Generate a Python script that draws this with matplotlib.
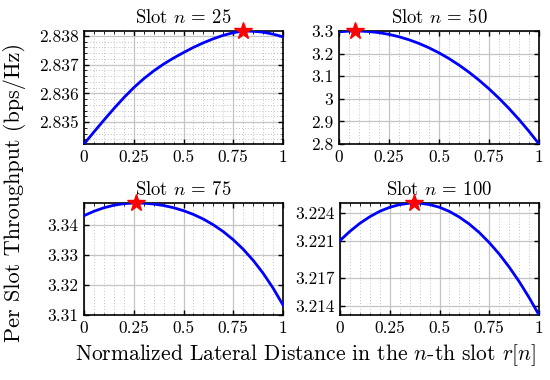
import matplotlib
matplotlib.use("Agg")
import matplotlib.pyplot as plt
from matplotlib.ticker import MultipleLocator

plt.rcParams['font.family'] = ['cmr10', 'DejaVu Serif']
plt.rcParams['mathtext.fontset'] = 'cm'
plt.rcParams['axes.formatter.use_mathtext'] = True

# ---- data ----
r = [0.00, 0.05, 0.10, 0.15, 0.20, 0.25, 0.30, 0.35, 0.40, 0.45, 0.50,
     0.55, 0.60, 0.65, 0.70, 0.75, 0.80, 0.85, 0.90, 0.95, 1.00]

slots = [25, 50, 75, 100]

thr_25 = [2.83424, 2.83466, 2.83507, 2.83547, 2.83585, 2.83620, 2.83651, 2.83678,
          2.83702, 2.83723, 2.83742, 2.83760, 2.83776, 2.83790, 2.83802, 2.83811,
          2.83817, 2.83816, 2.83813, 2.83806, 2.83797]
thr_50 = [3.2964, 3.2994, 3.2998, 3.2976, 3.2927, 3.2850, 3.2745, 3.2612,
          3.2449, 3.2256, 3.2033, 3.1779, 3.1493, 3.1175, 3.0825, 3.0441,
          3.0023, 2.9570, 2.9083, 2.8560, 2.8000]
thr_75 = [3.34300, 3.34446, 3.34561, 3.34645, 3.34698, 3.34719, 3.34713, 3.34686,
          3.34636, 3.34563, 3.34465, 3.34340, 3.34185, 3.33995, 3.33769, 3.33500,
          3.33184, 3.32816, 3.32388, 3.31895, 3.31330]
thr_100 = [3.22100, 3.22199, 3.22285, 3.22356, 3.22414, 3.22457, 3.22486, 3.22501,
           3.22501, 3.22486, 3.22457, 3.22412, 3.22351, 3.22276, 3.22185, 3.22077,
           3.21955, 3.21815, 3.21660, 3.21488, 3.21300]

opt_r = [0.80, 0.08, 0.26, 0.37]
opt_thr = [2.83817, 3.3000, 3.3472, 3.22503]

yticks_25 = [2.835, 2.836, 2.837, 2.838]
yticks_50 = [2.8, 2.9, 3.0, 3.1, 3.2, 3.3]
yticks_75 = [3.31, 3.32, 3.33, 3.34]
yticks_100 = [3.214, 3.217, 3.221, 3.224]
ylabels_25 = ['2.835', '2.836', '2.837', '2.838']
ylabels_50 = ['2.8', '2.9', '3', '3.1', '3.2', '3.3']
ylabels_75 = ['3.31', '3.32', '3.33', '3.34']
ylabels_100 = ['3.214', '3.217', '3.221', '3.224']
xticks = [0, 0.25, 0.5, 0.75, 1]
xticklabels = ['0', '0.25', '0.5', '0.75', '1']

series = [thr_25, thr_50, thr_75, thr_100]
yticks_all = [yticks_25, yticks_50, yticks_75, yticks_100]
ylabels_all = [ylabels_25, ylabels_50, ylabels_75, ylabels_100]

# ---- layout ----
fig = plt.figure(figsize=(5.5, 3.8), dpi=100)
W, H = 550, 380
boxes = [(84, 31, 283, 144), (339, 31, 539, 144),
         (84, 203, 283, 315), (340, 203, 539, 315)]

for i, (x0, y0, x1, y1) in enumerate(boxes):
    ax = fig.add_axes([x0 / W, 1 - y1 / H, (x1 - x0) / W, (y1 - y0) / H])
    y = series[i]
    ax.plot(r, y, color='#0000ff', lw=2.0, zorder=3)
    ax.plot(opt_r[i], opt_thr[i], marker='*', color='red', ms=13, mec='red',
            clip_on=False, zorder=5)
    ax.set_xlim(0, 1)
    ax.set_ylim(min(y), max(max(y), opt_thr[i]))
    ax.set_xticks(xticks)
    ax.set_xticklabels(xticklabels)
    ax.set_yticks(yticks_all[i])
    ax.set_yticklabels(ylabels_all[i])
    ax.xaxis.set_minor_locator(MultipleLocator(0.05))
    if i == 0:
        ax.yaxis.set_minor_locator(MultipleLocator(0.0002))
        ax.grid(True, which='minor', axis='y', color='#9a9a9a', lw=0.6,
                ls=(0, (1, 2.5)), alpha=0.8)
    ax.grid(True, which='minor', axis='x', color='#9a9a9a', lw=0.6,
            ls=(0, (1, 2.5)), alpha=0.8)
    ax.grid(True, which='major', color='#c4c4c4', lw=0.9)
    ax.set_axisbelow(True)
    ax.tick_params(which='both', direction='in', top=True, right=True,
                   labelsize=12.5, pad=4)
    ax.tick_params(which='major', length=3.5, width=1.0)
    ax.tick_params(which='minor', length=1.8, width=0.6)
    for s in ax.spines.values():
        s.set_linewidth(1.2)
    ax.set_title(r'Slot $n$ = %d' % slots[i], fontsize=13.5, pad=6)

fig.text(15 / W, 1 - 192 / H, 'Per Slot Throughput (bps/Hz)', rotation=90,
         va='center', ha='center', fontsize=16)
fig.text(306 / W, 1 - 355 / H, r'Normalized Lateral Distance in the $n$-th slot $r[n]$',
         ha='center', va='center', fontsize=15.5)

fig.savefig('out.png', dpi=100)
